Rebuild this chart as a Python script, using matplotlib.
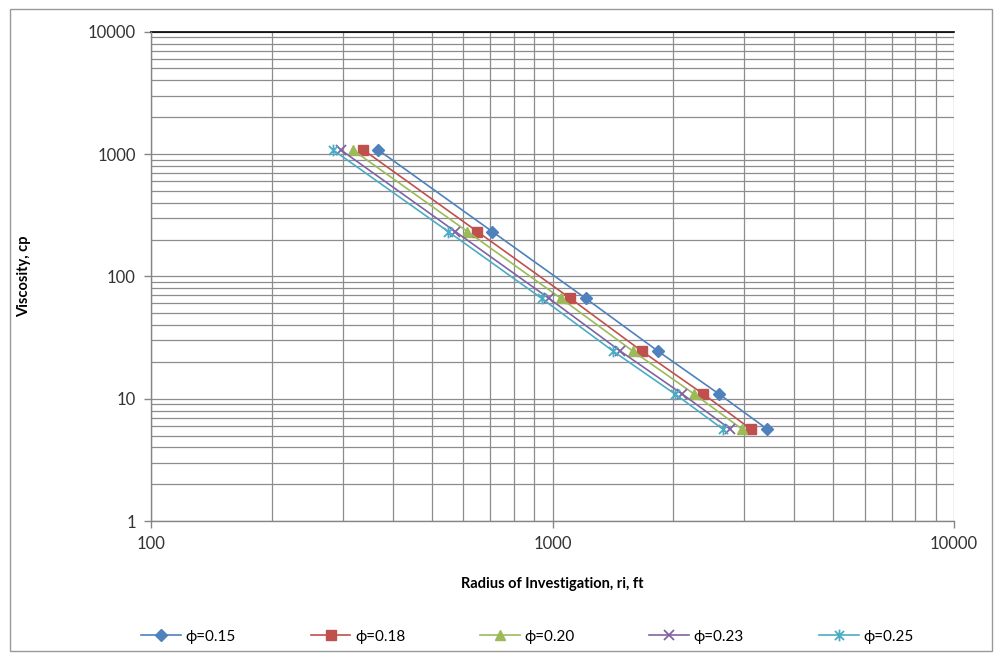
"""
Radius of investigation vs. oil viscosity for several porosities.
"""

import numpy as np
import matplotlib.pyplot as plt
from matplotlib.path import Path
from matplotlib.patches import Rectangle
from matplotlib.ticker import LogLocator, NullFormatter, FixedLocator

# viscosity, cp (same for every porosity case)
viscosity = [1080, 232, 66, 24.5, 10.9, 5.62]

# radius of investigation, ft
ri_015 = [368, 708, 1210, 1830, 2600, 3430]
ri_018 = [338, 650, 1108, 1668, 2375, 3125]
ri_020 = [318, 614, 1050, 1585, 2255, 2970]
ri_023 = [297, 573, 980, 1475, 2105, 2775]
ri_025 = [284, 550, 940, 1415, 2020, 2660]

labels = ['ϕ=0.15', 'ϕ=0.18', 'ϕ=0.20', 'ϕ=0.23', 'ϕ=0.25']

# Excel-style asterisk marker: an x with a vertical bar through it
star_verts = [(-1, -1), (1, 1), (-1, 1), (1, -1), (0, -1.3), (0, 1.3)]
star_codes = [Path.MOVETO, Path.LINETO] * 3
star_marker = Path(star_verts, star_codes)

styles = [
    dict(color='#4F81BD', marker='D', ms=6),
    dict(color='#C0504D', marker='s', ms=6.5),
    dict(color='#9BBB59', marker='^', ms=7),
    dict(color='#8064A2', marker='x', ms=7.5, mew=1.3),
    dict(color='#4BACC6', marker=star_marker, ms=8.5, mew=1.3),
]

plt.rcParams['font.family'] = ['Lato', 'DejaVu Sans']

fig = plt.figure(figsize=(9.95, 6.53), dpi=100)
ax = fig.add_axes([0.1518, 0.2021, 0.8070, 0.7494])

series = [ri_015, ri_018, ri_020, ri_023, ri_025]
for ri, lab, st in zip(series, labels, styles):
    ax.plot(ri, viscosity, linestyle='-', lw=1.2, label=lab, **st)

ax.set_xscale('log')
ax.set_yscale('log')
ax.set_xlim(100, 10000)
ax.set_ylim(1, 10000)

ax.xaxis.set_major_locator(FixedLocator([100, 1000, 10000]))
ax.yaxis.set_major_locator(FixedLocator([1, 10, 100, 1000, 10000]))
ax.xaxis.set_minor_locator(LogLocator(base=10, subs=np.arange(2, 10)))
ax.yaxis.set_minor_locator(LogLocator(base=10, subs=np.arange(2, 10)))
ax.xaxis.set_minor_formatter(NullFormatter())
ax.yaxis.set_minor_formatter(NullFormatter())
ax.set_xticklabels(['100', '1000', '10000'])
ax.set_yticklabels(['1', '10', '100', '1000', '10000'])

ax.grid(True, which='both', color='#8c8c8c', lw=0.9)
ax.set_axisbelow(True)

for side in ['top', 'right']:
    ax.spines[side].set_visible(False)
for side in ['left', 'bottom']:
    ax.spines[side].set_color('#868686')
    ax.spines[side].set_linewidth(1.0)
ax.axhline(10000, color='black', lw=1.2, clip_on=False)

ax.tick_params(which='major', direction='out', length=5, width=1,
               color='#868686', labelsize=12, labelcolor='#333333', pad=6)
ax.tick_params(which='minor', length=0)

ax.set_xlabel('Radius of Investigation, ri, ft', fontsize=10.5,
              fontweight='bold', labelpad=18)
ax.set_ylabel('Viscosity, cp', fontsize=10.5, fontweight='bold', labelpad=41)

fig.legend(loc='center', bbox_to_anchor=(0.53, 0.025), ncol=5, frameon=False,
           handlelength=2.6, columnspacing=4.9, handletextpad=0.3,
           prop={'size': 11})

# chart frame
fig.patches.append(Rectangle((10 / 995, 2 / 653), 982 / 995, 642 / 653,
                             transform=fig.transFigure, fill=False,
                             edgecolor='#999999', lw=1.0))

fig.savefig('out.png', dpi=100)
